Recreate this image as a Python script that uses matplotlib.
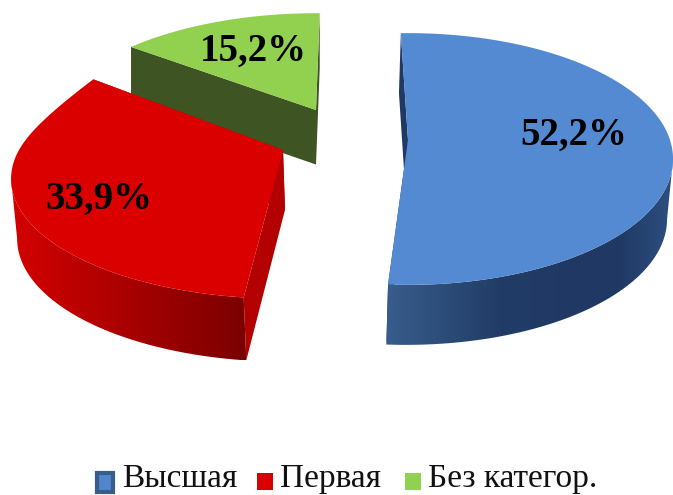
import numpy as np
import matplotlib
matplotlib.use("Agg")
import matplotlib.pyplot as plt
from matplotlib.patches import Polygon, Rectangle
from matplotlib.colors import to_rgb

categories = ["Высшая", "Первая", "Без категор."]
values = [52.2, 33.9, 15.2]
labels = ["52,2%", "33,9%", "15,2%"]

top_colors = ["#538ad2", "#db0000", "#92d050"]
wall_colors = ["#1f3864", "#b30000", "#3f5423"]
side_stops = [
    [(0.0, "#385d8c"), (0.4, "#213c66"), (0.8, "#1f3864"), (1.0, "#2d4f7f")],
    [(0.0, "#d40000"), (0.5, "#a80000"), (1.0, "#7a0000")],
    [(0.0, "#3f5423"), (1.0, "#3f5423")],
]
# projected-circle geometry for each exploded slice (apex, radii, perspective)
geom = [
    dict(cx=408, cy=140, R=262, S=123, Sb=123, k=0.151, kb=0.151, rot=-1.8, d0=60, d1=60, dx=-2, sc=0.985),
    dict(cx=283, cy=150, R=264, S=113, Sb=144, k=0.24, kb=0.143, rot=1.0, d0=55, d1=63, dx=2, sc=0.985),
    dict(cx=316, cy=110, R=265, S=120, Sb=120, k=0.24, kb=0.24, rot=1.0, d0=55, d1=50, dx=0, sc=1.0),
]
label_pos = [(574, 135), (99, 199), (253, 51)]
legend_pos = [(95, 122), (257, 280), (405, 428)]

W, H = 673, 495
fig = plt.figure(figsize=(W / 100, H / 100), dpi=100)
ax = fig.add_axes([0, 0, 1, 1])


def project(g, theta):
    t = np.radians(theta)
    c = np.cos(t)
    blend = np.clip(c / 0.8, 0, 1) ** 2
    w = 1 + (g["k"] + (g["kb"] - g["k"]) * blend) * c
    s = g["S"] + (g["Sb"] - g["S"]) * blend
    return g["cx"] + g["R"] * np.sin(t) / w, g["cy"] - s * c / w


def gradient_image(stops, n=256):
    pos = [s[0] for s in stops]
    cols = np.array([to_rgb(s[1]) for s in stops])
    u = np.linspace(0, 1, n)
    return np.stack([np.interp(u, pos, cols[:, i]) for i in range(3)], axis=-1)[None, :, :]


fractions = np.array(values) / np.sum(values) * 360
starts = np.concatenate([[0], np.cumsum(fractions)[:-1]])

for i in [2, 1, 0]:
    g = geom[i]
    z = (2 - i) * 2 + 1
    a0 = starts[i] + g["rot"]
    a1 = a0 + fractions[i]
    th = np.linspace(a0, a1, 300)
    x, y = project(g, th)
    dep = g["d0"] + (g["d1"] - g["d0"]) * (1 - np.cos(np.radians(th))) / 2
    bx = g["cx"] + (x - g["cx"]) * g["sc"] + g["dx"]
    by = y + dep
    ax0, ay0 = g["cx"] + g["dx"], g["cy"] + (dep[0] + dep[-1]) / 2
    ax.add_patch(Polygon([(g["cx"], g["cy"]), (x[0], y[0]), (bx[0], by[0]), (ax0, ay0)],
                         fc=wall_colors[i], ec="none", zorder=z))
    ax.add_patch(Polygon([(g["cx"], g["cy"]), (x[-1], y[-1]), (bx[-1], by[-1]), (ax0, ay0)],
                         fc=wall_colors[i], ec="none", zorder=z))
    if i != 2:
        # only the front part of the rim, from the outermost point to the near radius
        if i == 0:
            e = int(np.argmax(x))
            sel = slice(e, None)
        else:
            e = int(np.argmin(x))
            sel = slice(None, e + 1)
        outline = np.vstack([np.column_stack([x[sel], y[sel]]),
                             np.column_stack([bx[sel], by[sel]])[::-1]])
        clip = Polygon(outline, fc="none", ec="none", transform=ax.transData)
        ax.add_patch(clip)
        im = ax.imshow(gradient_image(side_stops[i]), aspect="auto", interpolation="bilinear",
                       extent=(outline[:, 0].min(), outline[:, 0].max(),
                               outline[:, 1].max(), outline[:, 1].min()), zorder=z + 0.2)
        im.set_clip_path(clip)
    ax.add_patch(Polygon(np.column_stack([np.r_[g["cx"], x], np.r_[g["cy"], y]]),
                         fc=top_colors[i], ec="none", zorder=z + 0.5))
    ax.text(*label_pos[i], labels[i], family="Liberation Serif", weight="bold",
            fontsize=28, ha="center", va="center", color="black", zorder=10)

for i, name in enumerate(categories):
    mx, tx = legend_pos[i]
    if i == 0:
        ax.add_patch(Rectangle((mx + 1.5, 472.5), 16, 19, fc="#4f86cc", ec="#385d8a", lw=3, zorder=9))
    else:
        ax.add_patch(Rectangle((mx, 473), 16, 17, fc=top_colors[i], ec="none", zorder=9))
    ax.text(tx, 487, name, family="Liberation Serif", fontsize=24, ha="left",
            va="baseline", color="#111111", zorder=10)

ax.set_xlim(0, W)
ax.set_ylim(H, 0)
ax.axis("off")
fig.savefig("out.png", dpi=100, facecolor="white")
